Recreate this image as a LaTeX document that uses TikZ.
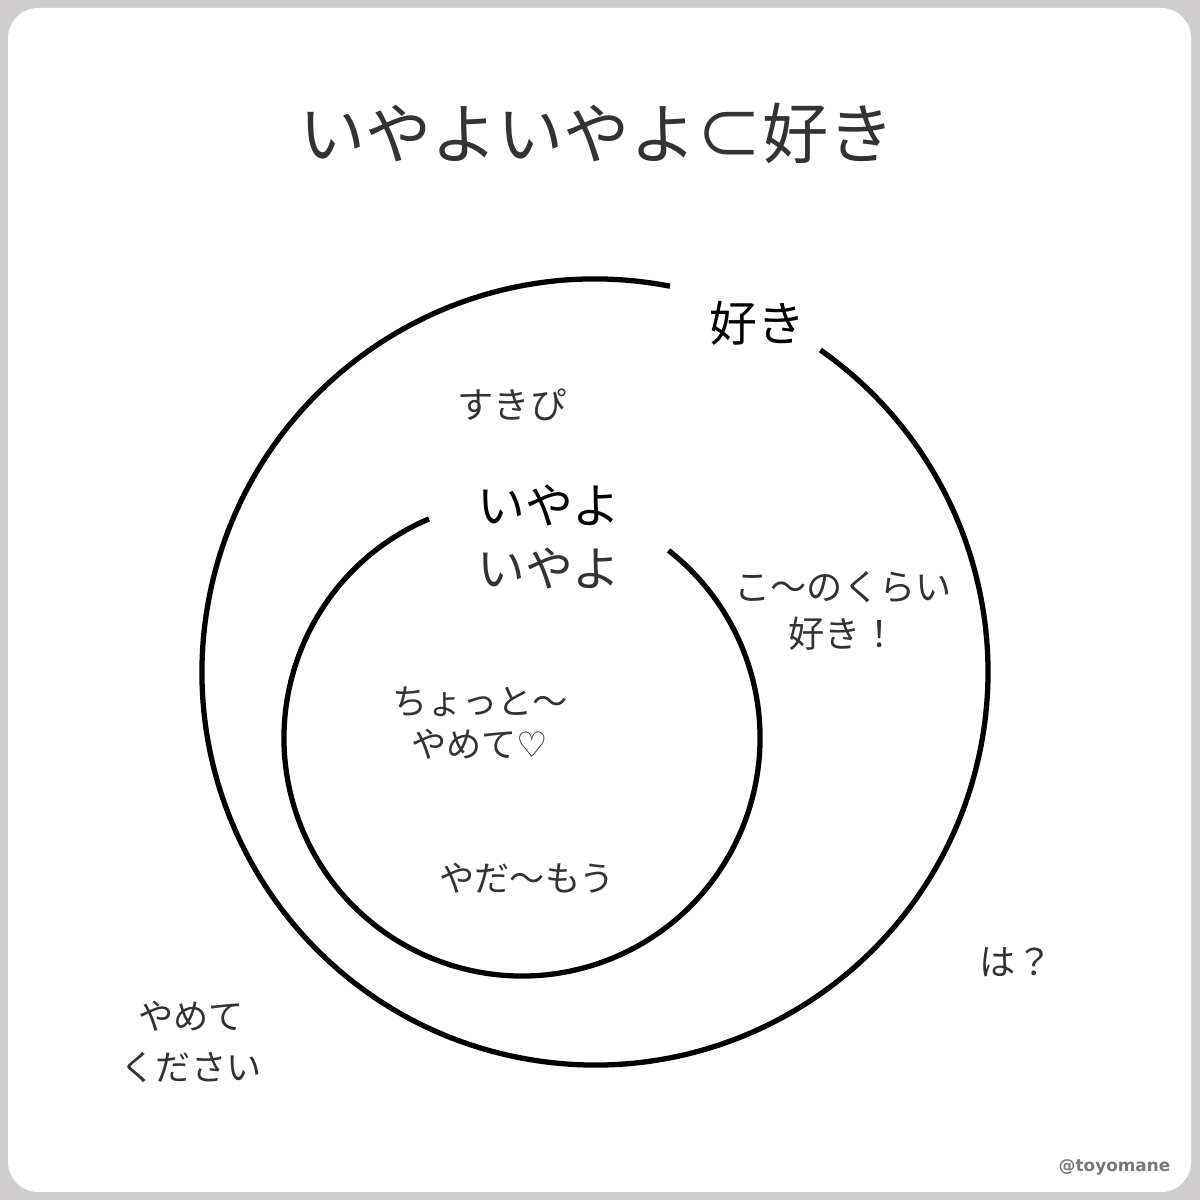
\documentclass[tikz,border=0pt]{standalone}
\usepackage{fontspec}
\setmainfont{Noto Sans CJK JP}
\newfontfamily\heartfont{DejaVu Sans}
\newfontfamily\handlefont{DejaVu Sans}
\usetikzlibrary{positioning}
\definecolor{framegray}{RGB}{207,205,206}
\definecolor{inkgray}{RGB}{51,51,51}
\definecolor{handlegray}{RGB}{120,120,120}

\begin{document}
\begin{tikzpicture}[x=0.01cm,y=0.01cm,
 ring/.style={draw=black,line width=1.5pt},
 heading/.style={font=\fontsize{18.8pt}{22pt}\selectfont,text=inkgray,inner sep=0pt},
 setname/.style={font=\fontsize{13.6pt}{17.9pt}\selectfont,inner sep=0pt,align=center},
 word/.style={font=\fontsize{10.3pt}{13.4pt}\selectfont,text=inkgray,inner sep=0pt,align=center},
 handle/.style={font=\handlefont\bfseries\fontsize{4.8pt}{6pt}\selectfont,text=handlegray,inner sep=0pt}]
% frame
\fill[framegray] (0,0) rectangle (1200,1200);
\fill[white,rounded corners=3mm] (8,8) rectangle (1191,1192);
\useasboundingbox (0,0) rectangle (1200,1200);
% rings
\coordinate (outer) at (595,528);
\coordinate (inner) at (522,462);
\draw[ring] (outer) ++(79:393) arc[start angle=79,end angle=415,radius=393];
\draw[ring] (inner) ++(113:238) arc[start angle=113,end angle=412,radius=238];
% texts
\node[heading] (title) at (597,1067) {いやよいやよ⊂好き};
\node[setname,text=black] (suki) at (757,877) {好き};
\node[setname,text=black] (iyayo1) at (549,695) {いやよ};
\node[setname,text=inkgray] (iyayo2) at (549,632) {いやよ};
\node[word] (sukipi) at (512,795) {すきぴ};
\node[word] (konokurai) at (843,589) {こ〜のくらい\\好き！};
\node[word,font=\fontsize{10pt}{12.3pt}\selectfont] (chotto) at (480,477) {ちょっと〜\\やめて{\heartfont ♡}};
\node[word,font=\fontsize{10pt}{12.3pt}\selectfont] (yada) at (527,322) {やだ〜もう};
\node[word] (ha) at (1016,238) {は？};
\node[word,font=\fontsize{10pt}{14.5pt}\selectfont] (kudasai) at (191,158) {やめて\\ください};
\node[handle,anchor=east] (credit) at (1171,33) {@toyomane};
\end{tikzpicture}
\end{document}
